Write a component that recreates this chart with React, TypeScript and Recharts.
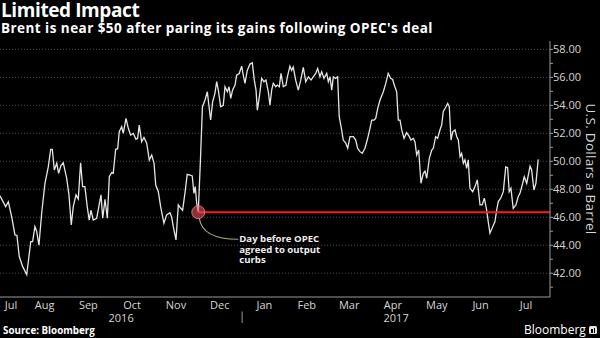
import React from "react";
import {
  CartesianGrid,
  Line,
  LineChart,
  ReferenceDot,
  ReferenceLine,
  XAxis,
  YAxis,
} from "recharts";

// x values are days counted from 1 Jul 2016
const days = [
  15.5, 19.4, 21.3, 23.6, 25.9, 27.3, 28.9, 31.3, 34.1, 36.9,
  38.2, 39.8, 41.0, 42.6, 44.5, 46.8, 49.1, 50.8, 51.9, 53.3,
  55.0, 56.3, 57.9, 59.5, 61.9, 63.5, 65.1, 66.5, 68.4, 70.0,
  71.6, 73.0, 74.6, 76.2, 77.6, 78.8, 80.4, 82.8, 85.8, 87.0,
  88.6, 90.2, 91.6, 93.2, 94.3, 96.0, 97.4, 98.5, 100.2, 101.3,
  103.2, 104.8, 106.4, 108.3, 110.1, 111.3, 112.4, 114.1, 115.7, 117.6,
  119.4, 121.1, 122.7, 123.9, 125.7, 127.3, 129.6, 131.5, 133.8, 135.0,
  136.1, 138.0, 139.6, 141.3, 142.6, 144.2, 145.8, 147.7, 149.3, 150.5,
  151.4, 152.4, 153.5, 155.0, 156.4, 158.2, 159.8, 161.0, 162.1, 163.5,
  165.1, 166.3, 167.4, 169.1, 170.9, 172.1, 173.7, 174.9, 176.1, 177.4,
  179.1, 180.2, 182.0, 183.7, 184.8, 186.0, 187.6, 189.5, 191.1, 192.5,
  193.7, 194.6, 196.0, 197.6, 199.2, 200.6, 202.2, 203.4, 204.6, 205.7,
  207.4, 208.5, 209.9, 211.1, 212.7, 214.5, 215.5, 217.3, 218.5, 219.6,
  221.3, 223.1, 224.8, 226.6, 228.3, 230.1, 232.0, 233.5, 235.2, 236.6,
  238.2, 239.4, 241.0, 242.9, 244.0, 245.2, 246.4, 247.5, 249.1, 250.5,
  251.6, 253.3, 254.4, 256.1, 257.5, 259.1, 261.4, 263.1, 264.4, 266.0,
  267.6, 269.5, 271.1, 273.0, 274.2, 275.8, 277.0, 278.4, 280.0, 282.3,
  284.0, 285.7, 287.4, 288.8, 289.9, 291.6, 292.7, 293.9, 295.1, 296.7,
  298.5, 300.4, 301.5, 303.1, 304.3, 305.5, 306.9, 308.5, 310.1, 311.3,
  312.5, 314.3, 316.0, 317.1, 318.7, 320.1, 321.7, 322.9, 324.0, 325.9,
  327.1, 328.2, 329.4, 330.6, 332.2, 333.4, 334.5, 335.7, 336.8, 338.0,
  339.1, 340.3, 341.4, 342.6, 344.5, 346.1, 347.7, 349.6, 351.1, 352.6,
  354.2, 355.3, 356.5, 358.4, 360.0, 361.2, 362.3, 364.0, 365.8, 367.5,
  368.8, 369.9, 371.1, 372.7, 374.6, 376.2, 377.4, 379.3, 380.4, 382.1,
  383.2, 384.4, 385.5, 387.1, 388.5, 390.1,
];

const prices = [
  47.54, 46.76, 47.1, 46.04, 44.74, 44.7, 43.19, 42.47, 41.9, 44.26,
  44.26, 45.33, 45.0, 44.0, 46.29, 48.43, 49.6, 50.86, 50.86, 49.38,
  49.86, 49.14, 49.7, 49.9, 48.79, 47.6, 45.45, 46.76, 47.6, 47.3,
  49.9, 48.19, 48.19, 46.76, 45.8, 46.5, 45.8, 45.93, 47.6, 45.93,
  47.29, 45.93, 48.9, 49.19, 49.14, 50.86, 50.9, 52.11, 52.47, 52.0,
  53.07, 52.36, 51.88, 52.0, 51.57, 51.64, 52.59, 51.4, 51.71, 51.29,
  50.09, 50.45, 49.86, 48.3, 47.83, 46.76, 45.57, 46.17, 46.33, 46.0,
  45.33, 44.38, 46.88, 46.64, 46.5, 47.71, 49.07, 49.02, 48.95, 47.71,
  48.19, 47.0, 46.36, 50.09, 53.9, 54.38, 54.97, 53.9, 52.95, 54.26,
  54.86, 55.69, 55.1, 53.9, 54.0, 55.33, 54.97, 55.33, 54.5, 55.1,
  55.45, 56.16, 56.28, 56.8, 56.16, 55.57, 56.5, 56.95, 57.04, 55.8,
  55.09, 53.66, 54.6, 55.93, 55.69, 55.81, 55.0, 54.02, 55.1, 55.57,
  55.33, 55.45, 55.33, 56.29, 55.33, 55.45, 56.04, 56.8, 56.5, 56.74,
  55.8, 55.09, 55.8, 56.71, 55.69, 56.04, 55.81, 56.04, 56.28, 56.64,
  56.04, 56.4, 55.93, 56.28, 55.69, 56.04, 55.09, 56.04, 55.93, 56.04,
  53.19, 52.24, 51.52, 51.3, 50.93, 51.76, 51.76, 51.52, 50.93, 50.69,
  50.57, 50.93, 51.52, 52.36, 52.95, 52.95, 53.07, 53.79, 54.38, 54.97,
  55.57, 56.29, 55.93, 55.85, 55.45, 54.97, 52.95, 52.95, 52.24, 51.64,
  52.05, 51.76, 51.52, 51.64, 51.4, 50.45, 50.81, 48.43, 49.14, 49.3,
  48.79, 50.21, 50.81, 50.93, 51.76, 51.64, 52.24, 52.59, 53.54, 53.9,
  54.14, 53.9, 51.52, 52.11, 52.24, 51.76, 51.52, 50.33, 50.57, 49.86,
  50.1, 49.5, 50.1, 48.07, 47.83, 48.19, 48.67, 46.88, 46.88, 47.36,
  46.52, 45.69, 44.86, 45.33, 45.69, 46.52, 47.12, 47.36, 47.83, 49.6,
  49.55, 47.83, 48.07, 46.64, 46.88, 47.48, 47.71, 48.43, 48.9, 48.43,
  49.02, 49.66, 49.4, 47.95, 48.43, 50.14,
];

const monthStarts = [31, 62, 92, 123, 153, 184, 215, 243, 274, 304, 335, 365, 396];
const monthNames = ["Jul", "Aug", "Sep", "Oct", "Nov", "Dec", "Jan", "Feb", "Mar", "Apr", "May", "Jun", "Jul"];
const monthLabelDays = [23.2, 46.5, 77, 107.5, 138, 168.5, 199.5, 229, 258.5, 289, 319.5, 350, 381.6];
const yearNames = ["2016", "2017"];
const yearLabelDays = [99.8, 291.2];
const yearBreak = 184;
const priceTicks = [41, 42, 43, 44, 45, 46, 47, 48, 49, 50, 51, 52, 53, 54, 55, 56, 57, 58];
const gridPrices = [42, 44, 46, 48, 50, 52, 54, 56, 58];

const opecDay = 153.5;
const opecPrice = 46.36;
const opecNote = ["Day before OPEC", "agreed to output", "curbs"];

const dayDomain = [15.5, 398.3];
const priceDomain = [40.3, 58.6];

const data = days.map((d, i) => ({ day: d, price: prices[i] }));

const FONT = "'Open Sans', 'DejaVu Sans', sans-serif";
const TEXT = "#d6d6d6";
const AXIS = "#9a9a9a";

const PriceTick = (props: any) => {
  const { x, y, payload } = props;
  if (payload.value % 2 !== 0) return null;
  return (
    <text x={x} y={y} dy={4} textAnchor="start" fill={TEXT} fontSize={11} fontFamily={FONT}>
      {payload.value.toFixed(2)}
    </text>
  );
};

const MonthTick = (props: any) => {
  const { x, y, payload } = props;
  const i = monthLabelDays.indexOf(payload.value);
  return (
    <text x={x} y={y} dy={8} textAnchor="middle" fill={TEXT} fontSize={11} fontFamily={FONT}>
      {monthNames[i]}
    </text>
  );
};

const YearTick = (props: any) => {
  const { x, y, payload } = props;
  if (payload.value === yearBreak) {
    return <line x1={x} x2={x} y1={y - 1.5} y2={y + 10} stroke={AXIS} strokeWidth={1} />;
  }
  const i = yearLabelDays.indexOf(payload.value);
  return (
    <text x={x} y={y} dy={9} textAnchor="middle" fill={TEXT} fontSize={11} fontFamily={FONT}>
      {yearNames[i]}
    </text>
  );
};

const OpecMarker = (props: any) => {
  const { cx, cy } = props;
  return (
    <g>
      <path
        d={`M${cx + 1},${cy + 6} Q${cx + 4},${cy + 27} ${cx + 40},${cy + 27}`}
        stroke="#a8a37a"
        strokeWidth={1.2}
        fill="none"
      />
      <circle cx={cx} cy={cy} r={6.5} fill="rgba(230,80,95,0.6)" stroke="rgba(240,130,140,0.8)" strokeWidth={1} />
      {opecNote.map((line, i) => (
        <text
          key={line}
          x={cx + 41}
          y={cy + 30 + i * 10.5}
          fill="#eeeeee"
          fontSize={9.6}
          fontWeight="bold"
          fontFamily={FONT}
        >
          {line}
        </text>
      ))}
    </g>
  );
};

export default function App() {
  return (
    <div
      style={{
        position: "fixed",
        left: 0,
        top: 0,
        width: 600,
        height: 338,
        background: "#000",
        overflow: "hidden",
        fontFamily: FONT,
      }}
    >
      <div
        style={{
          position: "absolute",
          left: 1,
          top: 0,
          fontSize: 19,
          lineHeight: "20px",
          letterSpacing: -0.4,
          fontWeight: "bold",
          color: "#fff",
          whiteSpace: "nowrap",
        }}
      >
        Limited Impact
      </div>
      <div
        style={{
          position: "absolute",
          left: 1,
          top: 21,
          fontSize: 13.5,
          lineHeight: "14px",
          letterSpacing: 0.45,
          fontWeight: "bold",
          color: "#fff",
          whiteSpace: "nowrap",
        }}
      >
        Brent is near $50 after paring its gains following OPEC's deal
      </div>

      <div style={{ position: "absolute", left: 0, top: 0 }}>
        <LineChart width={600} height={338} data={data} margin={{ top: 41, right: 0, bottom: 11, left: 0 }}>
          <CartesianGrid
            xAxisId="main"
            stroke="#4a4a4a"
            strokeDasharray="1 2"
            horizontalValues={gridPrices}
            verticalValues={monthStarts}
          />
          <XAxis
            xAxisId="main"
            dataKey="day"
            type="number"
            domain={dayDomain}
            allowDataOverflow
            ticks={monthStarts}
            interval={0}
            tick={false}
            tickSize={3}
            height={4}
            axisLine={{ stroke: AXIS }}
            tickLine={{ stroke: AXIS }}
          />
          <XAxis
            xAxisId="months"
            dataKey="day"
            type="number"
            domain={dayDomain}
            allowDataOverflow
            ticks={monthLabelDays}
            interval={0}
            tick={<MonthTick />}
            tickSize={0}
            tickMargin={0}
            tickLine={false}
            axisLine={false}
            height={12}
          />
          <XAxis
            xAxisId="years"
            dataKey="day"
            type="number"
            domain={dayDomain}
            allowDataOverflow
            ticks={[yearLabelDays[0], yearBreak, yearLabelDays[1]]}
            interval={0}
            tick={<YearTick />}
            tickSize={0}
            tickMargin={0}
            tickLine={false}
            axisLine={false}
            height={14}
          />
          <YAxis
            orientation="right"
            type="number"
            domain={priceDomain}
            allowDataOverflow
            ticks={priceTicks}
            interval={0}
            width={50}
            tickSize={3}
            tickMargin={0}
            tick={<PriceTick />}
            axisLine={{ stroke: AXIS }}
            tickLine={{ stroke: AXIS }}
          />
          <Line
            xAxisId="main"
            type="linear"
            dataKey="price"
            stroke="#e6e6e6"
            strokeWidth={1.3}
            dot={false}
            isAnimationActive={false}
          />
          <ReferenceLine
            xAxisId="main"
            segment={[
              { x: opecDay, y: opecPrice },
              { x: dayDomain[1], y: opecPrice },
            ]}
            stroke="#ff1a1a"
            strokeWidth={2}
          />
          <ReferenceDot xAxisId="main" x={opecDay} y={opecPrice} r={6.5} shape={<OpecMarker />} />
        </LineChart>
      </div>

      <div
        style={{
          position: "absolute",
          left: 591,
          top: 169,
          transform: "translate(-50%, -50%) rotate(90deg)",
          fontSize: 13.5,
          letterSpacing: 0.3,
          color: TEXT,
          whiteSpace: "nowrap",
        }}
      >
        U.S. Dollars a Barrel
      </div>

      <div
        style={{
          position: "absolute",
          left: 3,
          top: 324,
          fontSize: 9.8,
          lineHeight: "14px",
          fontWeight: "bold",
          color: "#fff",
          whiteSpace: "nowrap",
        }}
      >
        Source: Bloomberg
      </div>
      <div
        style={{
          position: "absolute",
          left: 524,
          top: 322,
          fontSize: 12,
          lineHeight: "16px",
          color: "#fff",
          whiteSpace: "nowrap",
        }}
      >
        Bloomberg
      </div>
      <div
        style={{
          position: "absolute",
          left: 589,
          top: 326,
          width: 8,
          height: 8,
          borderRadius: 1.5,
          background: "#e6e6e6",
        }}
      >
        <div style={{ position: "absolute", left: 2, top: 3, width: 1.5, height: 4, background: "#000" }} />
        <div style={{ position: "absolute", left: 4.5, top: 1.5, width: 1.5, height: 5.5, background: "#000" }} />
      </div>
    </div>
  );
}
